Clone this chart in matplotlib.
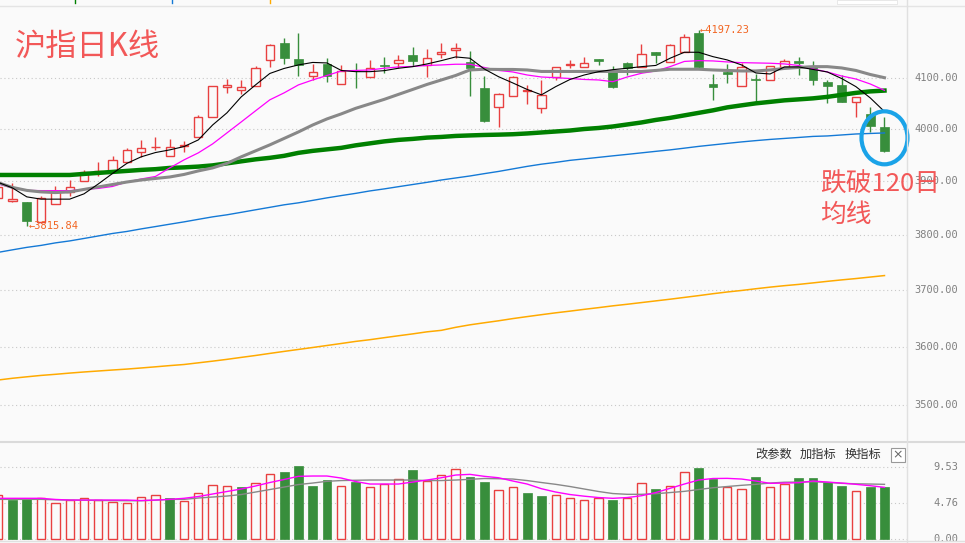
import matplotlib
matplotlib.use("Agg")
import matplotlib.pyplot as plt
from matplotlib.patches import Rectangle, Ellipse
from matplotlib.lines import Line2D
from matplotlib.transforms import ScaledTranslation, blended_transform_factory
import numpy as np

# daily candles
opens = [3868, 3863, 3861, 3824, 3858, 3879, 3900, 3917, 3920, 3937,
         3956, 3965, 3948, 3967, 3985, 4024, 4082, 4076, 4084, 4136,
         4170, 4138, 4104, 4128, 4089, 4114, 4102, 4126, 4130, 4146,
         4125, 4148, 4155, 4131, 4081, 4043, 4064, 4074, 4040, 4102,
         4126, 4122, 4138, 4114, 4129, 4122, 4152, 4131, 4151, 4190,
         4088, 4111, 4085, 4098, 4097, 4122, 4133, 4121, 4092, 4086,
         4053, 4029, 4004]
highs = [3893, 3896, 3862, 3872, 3891, 3902, 3922, 3937, 3949, 3964,
         3979, 3985, 3980, 3976, 4027, 4085, 4098, 4096, 4123, 4169,
         4180, 4190, 4128, 4140, 4126, 4129, 4136, 4141, 4146, 4161,
         4158, 4170, 4170, 4154, 4104, 4070, 4104, 4086, 4096, 4122,
         4136, 4141, 4138, 4124, 4131, 4169, 4152, 4169, 4188, 4197.23,
         4107, 4127, 4129, 4108, 4123, 4137, 4141, 4133, 4096, 4106,
         4062, 4042, 4024]
lows = [3865, 3862, 3815.84, 3822, 3858, 3873, 3900, 3911, 3920, 3937,
        3947, 3960, 3948, 3956, 3985, 4024, 4071, 4068, 4084, 4122,
        4127, 4104, 4096, 4093, 4089, 4081, 4102, 4110, 4119, 4123,
        4102, 4139, 4139, 4065, 4013, 4003, 4064, 4049, 4031, 4096,
        4119, 4122, 4125, 4080, 4106, 4122, 4129, 4131, 4151, 4120,
        4056, 4090, 4085, 4053, 4097, 4122, 4105, 4087, 4051, 4052,
        4024, 3995, 3956]
closes = [3889, 3867, 3826, 3869, 3881, 3889, 3918, 3919, 3940, 3960,
          3964, 3966, 3965, 3969, 4024, 4084, 4086, 4082, 4120, 4166,
          4140, 4126, 4112, 4103, 4114, 4113, 4119, 4123, 4136, 4133,
          4139, 4152, 4159, 4119, 4016, 4068, 4101, 4077, 4066, 4122,
          4128, 4130, 4134, 4083, 4119, 4147, 4146, 4166, 4182, 4122,
          4082, 4108, 4122, 4096, 4123, 4133, 4130, 4097, 4084, 4052,
          4062, 4006, 3958]

# moving averages as drawn
ma5 = [3898, 3887.5, 3870.8, 3866.5, 3866.5, 3866.5, 3876.4, 3895, 3914.9, 3934,
       3946.5, 3954.7, 3959.8, 3966.2, 3979, 4007.8, 4031.4, 4062.7, 4086.3, 4109,
       4119, 4126, 4131, 4130, 4115, 4112.6, 4112.6, 4114.6, 4119.4, 4122.6,
       4128, 4134.6, 4142, 4139.4, 4118, 4102.6, 4090.2, 4077.4, 4066.7, 4082.9,
       4097.1, 4106, 4112.6, 4116.6, 4119.4, 4122.6, 4125, 4139.4, 4151.4, 4151.4,
       4142.6, 4136, 4126, 4110, 4108, 4122, 4122, 4117, 4112, 4099,
       4082.9, 4060.8, 4033.9]
ma10 = [3895, 3887.5, 3882.9, 3882.5, 3882.5, 3882.5, 3884.7, 3886.6, 3890.3, 3898.7,
        3904.4, 3909.2, 3925.4, 3940.7, 3954.1, 3971.3, 3992.4, 4013.7, 4035.3, 4056.9,
        4070.6, 4086.3, 4096.1, 4105, 4114, 4115, 4116, 4119.4, 4122, 4123,
        4125, 4126, 4127.4, 4127.4, 4121, 4115, 4112, 4106, 4102, 4100.6,
        4099, 4097.1, 4096.1, 4092.7, 4102, 4109.4, 4114, 4122.6, 4133, 4134.6,
        4134, 4132, 4130.6, 4130, 4129.4, 4128, 4125, 4118, 4112, 4104,
        4098, 4088.2, 4075.5]
ma20 = [3897.4, 3888.5, 3882.9, 3880.1, 3878.8, 3880.1, 3884.7, 3889.4, 3894, 3898.7,
        3902.5, 3905.4, 3908.2, 3913, 3919.7, 3925.4, 3934, 3946.5, 3957.9, 3969.4,
        3981.8, 3994.3, 4007.8, 4019.6, 4029.4, 4040.2, 4049, 4057.8, 4067.6, 4077.4,
        4087.3, 4096.1, 4105, 4116, 4117.4, 4117, 4117, 4116, 4113, 4113,
        4113, 4113, 4113, 4113, 4113, 4113, 4115, 4117.4, 4117.4, 4117.4,
        4116, 4115, 4114, 4114, 4116, 4119, 4121, 4122.6, 4122.6, 4120,
        4115, 4107, 4100.6]
ma60 = [3912, 3912, 3912, 3912, 3912, 3912, 3914, 3915.9, 3917.8, 3919.7,
        3921.6, 3923, 3925.4, 3926.4, 3927.9, 3930.2, 3934, 3937.9, 3941.7, 3944.6,
        3948.4, 3954.1, 3957.9, 3960.8, 3963.7, 3968.5, 3972.3, 3976.1, 3979, 3980.9,
        3983.4, 3984.7, 3986.6, 3987.6, 3988.5, 3989.1, 3989.9, 3991.4, 3993.3, 3995.2,
        3997.1, 4000, 4002, 4004.9, 4008.8, 4012.7, 4017.6, 4021.6, 4026.5, 4031.4,
        4036.3, 4042.1, 4046.1, 4050, 4052.9, 4055.9, 4057.8, 4059.8, 4062.7, 4066.7,
        4070.6, 4073.5, 4075.1]
ma120 = [3768.2, 3772.8, 3777.3, 3780.9, 3785.5, 3789.1, 3793.6, 3798.2, 3802.8, 3806.5,
         3811.2, 3815.5, 3819.9, 3824.2, 3828.9, 3833.5, 3837.3, 3841.9, 3846.6, 3851.2,
         3855.9, 3859.6, 3864.2, 3868.9, 3873.2, 3877.3, 3881.9, 3885.7, 3889.9, 3894,
         3898.1, 3902.5, 3906.3, 3910.1, 3914.5, 3918.7, 3923.5, 3928.3, 3932.5, 3935.9,
         3939.8, 3942.6, 3945.5, 3948.4, 3951.2, 3954.1, 3957, 3959.8, 3963.1, 3966.5,
         3969.4, 3972.3, 3975.1, 3977.6, 3979.9, 3981.8, 3983.7, 3985.7, 3986.6, 3988.5,
         3990.4, 3991.4, 3992.4]
ma250 = [3542.4, 3545.4, 3547.9, 3550.3, 3552.2, 3554.3, 3556.2, 3557.9, 3559.6, 3561.2,
         3563.1, 3565.1, 3567.2, 3569.1, 3572, 3574.9, 3578, 3581.4, 3584.7, 3588.3,
         3591.8, 3595.2, 3598.6, 3602.1, 3605.6, 3609.2, 3612.2, 3615.7, 3619.1, 3622.4,
         3626, 3628.6, 3633.9, 3638.3, 3641.9, 3645.4, 3649.3, 3652.8, 3656.2, 3659.5,
         3662.5, 3665.7, 3668.7, 3671.9, 3674.7, 3677.7, 3680.7, 3683.7, 3686.9, 3690.1,
         3693.5, 3696.6, 3699.3, 3702.4, 3705.3, 3707.9, 3710.2, 3712.9, 3715.7, 3718.3,
         3720.7, 3723.4, 3726.1]

# volume panel
vols = [5.78, 5.12, 5.21, 5.34, 4.68, 5.12, 5.34, 5.12, 4.81, 4.68,
        5.56, 5.74, 5.39, 4.95, 6.00, 7.06, 6.93, 6.84, 7.33, 8.52,
        8.83, 9.62, 6.97, 7.77, 6.93, 7.55, 6.80, 7.24, 7.86, 9.09,
        7.60, 8.39, 9.19, 8.21, 7.50, 6.45, 6.80, 6.09, 5.65, 5.78,
        5.34, 5.12, 5.43, 5.12, 5.34, 7.33, 6.58, 6.97, 8.79, 9.36,
        7.86, 6.88, 6.54, 8.17, 6.80, 7.24, 8.03, 8.03, 7.55, 6.97,
        6.27, 6.84, 6.84]
vma5 = [5.35, 5.35, 5.35, 5.35, 5.20, 5.12, 5.12, 5.12, 5.12, 5.12,
        5.05, 5.12, 5.21, 5.35, 5.59, 5.92, 6.25, 6.58, 6.98, 7.44,
        7.84, 8.26, 8.30, 8.30, 8.03, 7.57, 7.24, 7.24, 7.24, 7.50,
        7.77, 8.07, 8.43, 8.52, 8.26, 8.07, 7.64, 7.24, 6.62, 6.18,
        5.85, 5.63, 5.45, 5.35, 5.45, 5.69, 6.11, 6.67, 7.24, 7.77,
        7.97, 7.99, 7.90, 7.64, 7.33, 7.37, 7.41, 7.64, 7.50, 7.37,
        7.20, 7.02, 6.80]
vma10 = [5.21, 5.21, 5.21, 5.21, 5.15, 5.12, 5.10, 5.07, 5.05, 5.03,
         5.03, 5.10, 5.21, 5.21, 5.39, 5.52, 5.65, 5.85, 6.18, 6.51,
         6.84, 7.17, 7.37, 7.60, 7.70, 7.74, 7.77, 7.77, 7.77, 7.77,
         7.70, 7.70, 7.77, 7.86, 7.97, 7.94, 7.90, 7.70, 7.44, 7.20,
         6.91, 6.58, 6.25, 5.98, 5.88, 5.88, 5.96, 6.11, 6.27, 6.51,
         6.75, 6.91, 7.07, 7.20, 7.37, 7.48, 7.50, 7.54, 7.46, 7.33,
         7.27, 7.24, 7.20]

price_ticks = [3500, 3600, 3700, 3800, 3900, 4000, 4100]
vol_ticks = [0.00, 4.76, 9.53]

title = "沪指日K线"
note_lines = ["跌破120日", "均线"]
buttons = ["改参数", "加指标", "换指标"]

bg = '#fafafa'
up_col = '#e84040'
down_col = '#388e3c'
label_col = '#808080'
text_red = '#f25858'
W, H = 965, 543

n = len(closes)
x = np.arange(n)

fig = plt.figure(figsize=(W / 100, H / 100), dpi=100, facecolor=bg)
ax = fig.add_axes([0, 101 / H, 906.5 / W, 436 / H])
axv = fig.add_axes([0, 2 / H, 906.5 / W, 98 / H])

ax.set_yscale('log')
ax.set_ylim(3437.7, 4245.4)
axv.set_ylim(-0.30, 12.67)
for a in (ax, axv):
    a.set_facecolor(bg)
    for s in a.spines.values():
        s.set_visible(False)
    a.set_xlim(0.126, 63.54)
    a.set_xticks([])
    a.set_yticks([])
    a.set_yticks([], minor=True)

dot = (0, (1, 2.5))
for p in price_ticks:
    ax.axhline(p, color='#c8c8c8', lw=0.8, ls=dot, zorder=0)
for v in vol_ticks:
    axv.axhline(v, color='#c8c8c8', lw=0.8, ls=dot, zorder=0)

tr = blended_transform_factory(ax.transAxes, ax.transData)
for p in price_ticks:
    ax.text(958 / 906.5, p, f'{p:.2f}', transform=tr, ha='right', va='center',
            fontsize=7.5, family='DejaVu Sans Mono', color=label_col, clip_on=False)
trv = blended_transform_factory(axv.transAxes, axv.transData)
for v in vol_ticks:
    axv.text(958 / 906.5, v, f'{v:.2f}', transform=trv, ha='right', va='center',
             fontsize=7.5, family='DejaVu Sans Mono', color=label_col, clip_on=False)

# candles
for i in range(n):
    o, h, l, c = opens[i], highs[i], lows[i], closes[i]
    col = up_col if c >= o else down_col
    ax.vlines(i, l, h, color=col, lw=1, zorder=2)
    lo = min(o, c)
    ht = max(abs(c - o), 0.6)
    if c >= o:
        ax.add_patch(Rectangle((i - 0.29, lo), 0.58, ht, facecolor=bg,
                               edgecolor=col, lw=1, zorder=3))
    else:
        ax.add_patch(Rectangle((i - 0.31, lo), 0.62, ht, facecolor=col,
                               edgecolor=col, lw=0.5, zorder=3))

ax.plot(x, ma250, color='#ffaa00', lw=1.1, zorder=4)
ax.plot(x, ma120, color='#1479d6', lw=1.0, zorder=4)
ax.plot(x, ma60, color='#008000', lw=3.2, zorder=5)
ax.plot(x, ma10, color='#ff00ff', lw=0.9, zorder=6)
ax.plot(x, ma20, color='#888888', lw=2.2, zorder=6)
ax.plot(x, ma5, color='black', lw=0.8, zorder=7)

# high / low marks
ih = int(np.argmax(highs))
il = int(np.argmin(lows))
ax.text(ih + 0.1, highs[ih], f'←{highs[ih]:.2f}', ha='left', va='center',
        fontsize=7.5, family='DejaVu Sans Mono', color='#f26522', zorder=8)
ax.text(il + 0.15, lows[il], f'←{lows[il]:.2f}', ha='left', va='center',
        fontsize=7.5, family='DejaVu Sans Mono', color='#f26522', zorder=8)

# circle on last candle
ring = Ellipse((0, 0), 0.46, 0.53, fill=False, edgecolor='#1aa3e8', lw=3,
               transform=fig.dpi_scale_trans + ScaledTranslation(n - 1, 3983, ax.transData),
               zorder=9, clip_on=False)
ax.add_patch(ring)

# volume bars
for i in range(n):
    prev = closes[i - 1] if i > 0 else opens[i]
    if closes[i] >= prev:
        axv.add_patch(Rectangle((i - 0.29, 0), 0.58, vols[i], facecolor=bg,
                                edgecolor=up_col, lw=1, zorder=3))
    else:
        axv.add_patch(Rectangle((i - 0.31, 0), 0.62, vols[i], facecolor=down_col,
                                edgecolor=down_col, lw=0.5, zorder=3))
axv.plot(x, vma10, color='#888888', lw=1.0, zorder=4)
axv.plot(x, vma5, color='#ff00ff', lw=1.0, zorder=5)

# frame lines
def fline(xs, ys, **kw):
    fig.add_artist(Line2D([v / W for v in xs], [1 - v / H for v in ys], **kw))

fline([0, W], [6, 6], color='#e4e4e4', lw=1)
fline([0, W], [442, 442], color='#dadada', lw=1.5)
fline([0, W], [540.5, 540.5], color='#e0e0e0', lw=1)
fline([906.5, 906.5], [0, H], color='#e0e0e0', lw=1)
fline([75, 75], [0, 3], color='#008000', lw=1)
fline([172, 172], [0, 3], color='#1479d6', lw=1)
fline([270, 270], [0, 3], color='#ffaa00', lw=1)
fig.add_artist(Rectangle((837 / W, 1 - 4 / H), 60 / W, 4 / H, transform=fig.transFigure,
                         facecolor='white', edgecolor='#e0e0e0', lw=0.5))

cjk = ['Noto Sans CJK SC', 'DejaVu Sans']
fig.text(15 / W, 1 - 47 / H, title, fontsize=22.5, color=text_red, family=cjk,
         ha='left', va='center')
fig.text(820 / W, 1 - 185 / H, note_lines[0], fontsize=18.5, color=text_red,
         family=cjk, ha='left', va='center', zorder=10)
fig.text(820 / W, 1 - 215 / H, note_lines[1], fontsize=18.5, color=text_red,
         family=cjk, ha='left', va='center', zorder=10)

for bx, b in zip([755, 800, 845], buttons):
    fig.text(bx / W, 1 - 454 / H, b, fontsize=8.8, color='#333333', family=cjk,
             ha='left', va='center')
fig.add_artist(Rectangle((891 / W, 1 - 461.5 / H), 14 / W, 14 / H, transform=fig.transFigure,
                         facecolor='white', edgecolor='#999999', lw=0.8))
fig.text(898 / W, 1 - 454.5 / H, '×', fontsize=9, color='#666666', ha='center', va='center')

fig.savefig('out.png', dpi=100, facecolor=bg)
